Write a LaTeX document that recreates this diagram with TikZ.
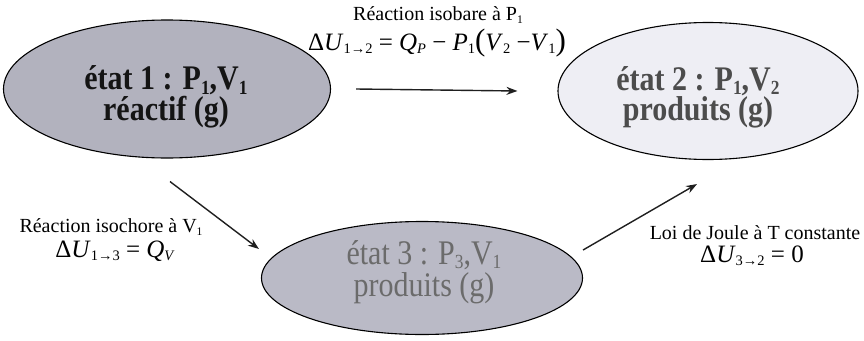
\documentclass[tikz,border=0pt]{standalone}
\usepackage{fontspec}
\setmainfont{Liberation Serif}
\usetikzlibrary{shapes.geometric,arrows.meta}
\newcommand\sub[1]{\raisebox{-0.28ex}{\scalebox{0.58}{#1}}}
\newcommand\iv[1]{\textit{#1}}
\newcommand\vst[1]{\scalebox{1}[1.15]{#1}}
\definecolor{gA}{RGB}{178,178,190}
\definecolor{gB}{RGB}{238,238,244}
\definecolor{gC}{RGB}{186,186,198}
\begin{document}
\begin{tikzpicture}[x=1pt,y=-1pt,
  statebox/.style={ellipse, draw=black, line width=1.1pt, inner sep=0pt},
  stxt/.style={align=center, inner sep=0pt},
  arr/.style={draw=black!88, line width=1.4pt, -{Stealth[length=11pt,width=8pt]}},
  lab/.style={inner sep=0pt, font=\fontsize{20}{22}\selectfont},
  eqn/.style={inner sep=0pt, font=\fontsize{25}{27}\selectfont}]
\useasboundingbox (0,0) rectangle (864,340);
% states
\node[statebox, fill=gA, minimum width=327pt, minimum height=138pt] (e1) at (167,89) {};
\node[statebox, fill=gB, minimum width=300pt, minimum height=137pt] (e2) at (708,91) {};
\node[statebox, fill=gC, minimum width=321pt, minimum height=113pt] (e3) at (422,278) {};
\node[stxt, text=black!92, font=\fontsize{30}{28}\selectfont\bfseries] (t1) at (166,97)
  {\vst{état 1 : P\sub{1},V\sub{1}}\\\vst{réactif (g)}};
\node[stxt, text=black!70, font=\fontsize{30}{30}\selectfont\bfseries] (t2) at (698,97)
  {\vst{état 2 : P\sub{1},V\sub{2}}\\\vst{produits (g)}};
\node[stxt, text=black!58, font=\fontsize{30}{32}\selectfont] (t3) at (424,272)
  {\vst{état 3 : P\sub{3},V\sub{1}}\\\vst{produits (g)}};
% connectors
\draw[arr] ([xshift=25pt]e1.east) -- ([xshift=-40pt]e2.west);
\draw[arr] ([xshift=3pt,yshift=-23pt]e1.south) -- ([xshift=-2pt,yshift=29pt]e3.west);
\draw[arr] ([yshift=28pt]e3.east) -- ([xshift=-11pt,yshift=-24pt]e2.south);
% labels
\node[lab] (l12) at (438,15) {Réaction isobare à P\sub{1}};
\node[eqn] (q12) at (437,43) {Δ\iv{U}\sub{1→2} = \iv{Q}\sub{\iv{P}} − \iv{P}\sub{1}{\fontsize{31}{31}\selectfont(}\iv{V}\sub{2} −\iv{V}\sub{1}{\fontsize{31}{31}\selectfont)}};
\node[lab] (l13) at (111,227) {Réaction isochore à V\sub{1}};
\node[eqn] (q13) at (115,251) {Δ\iv{U}\sub{1→3} = \iv{Q}\sub{\iv{V}}};
\node[lab] (l32) at (755,233) {Loi de Joule à T constante};
\node[eqn] (q32) at (752,256) {Δ\iv{U}\sub{3→2} = 0};
\end{tikzpicture}
\end{document}
